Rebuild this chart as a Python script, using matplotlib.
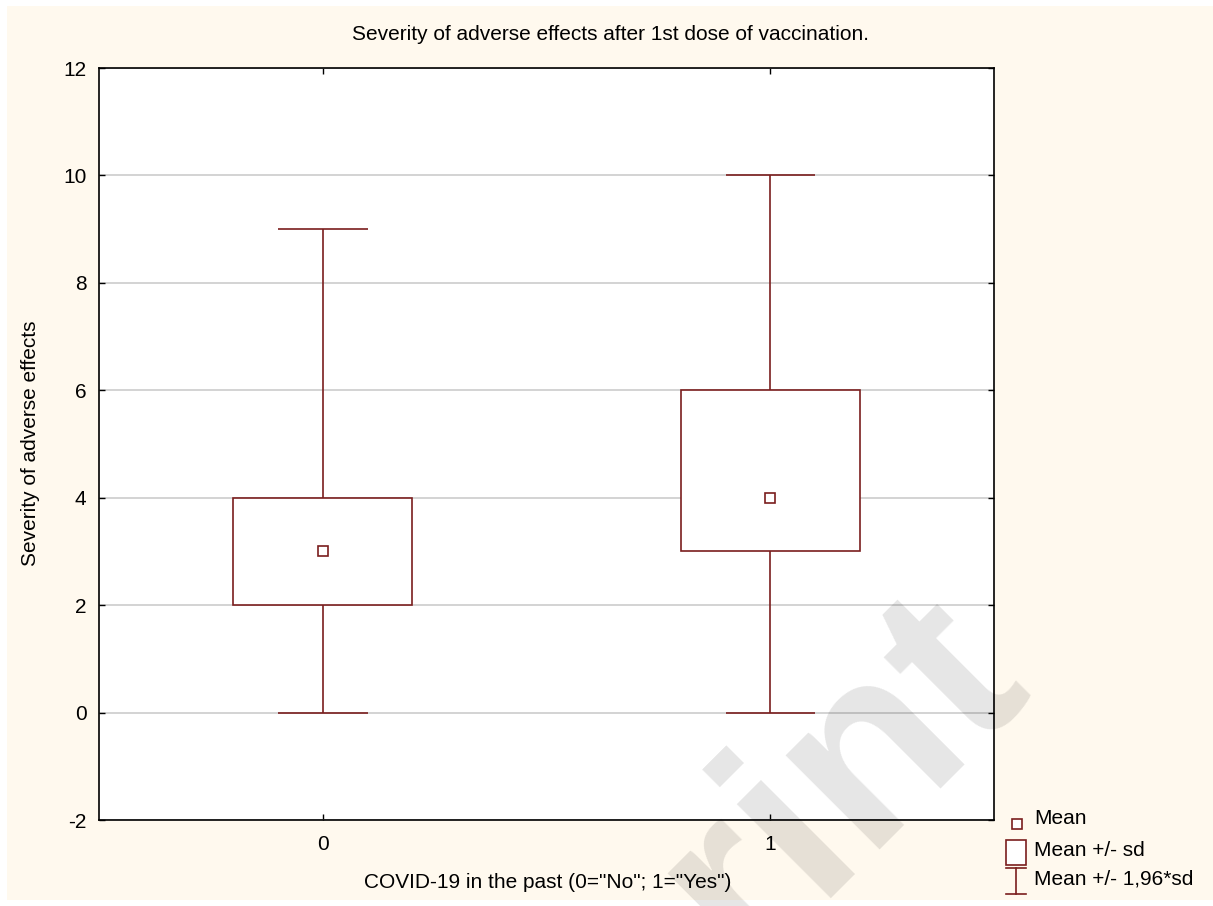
import matplotlib
matplotlib.use("Agg")
import matplotlib.pyplot as plt
from matplotlib.patches import Rectangle

plt.rcParams['font.family'] = ['Liberation Sans', 'DejaVu Sans']
plt.rcParams['axes.unicode_minus'] = False

# данные по группам
groups = ['0', '1']
means = [3, 4]
sd_low = [2, 3]
sd_high = [4, 6]
ci_low = [0, 0]
ci_high = [9, 10]

title = 'Severity of adverse effects after 1st dose of vaccination.'
x_label = 'COVID-19 in the past (0="No"; 1="Yes")'
y_label = 'Severity of adverse effects'
legend_labels = ['Mean', 'Mean +/- sd', 'Mean +/- 1,96*sd']

col = '#7A1E1E'
cream = '#FFF9EE'
W, H = 1213, 906
fs = 15

fig = plt.figure(figsize=(W / 100, H / 100), dpi=100, facecolor='white')
# кремовый фон
fig.patches.append(Rectangle((7 / W, 1 - 900 / H), 1 - 7 / W, (900 - 6) / H,
                             transform=fig.transFigure, facecolor=cream,
                             edgecolor='none', zorder=-5))

ax = fig.add_axes([99 / W, 1 - 820 / H, (994 - 99) / W, (820 - 68) / H])
ax.set_facecolor('white')

for i in range(len(groups)):
    ax.vlines(i, ci_low[i], sd_low[i], color=col, lw=1.2, zorder=3)
    ax.vlines(i, sd_high[i], ci_high[i], color=col, lw=1.2, zorder=3)
    ax.hlines([ci_low[i], ci_high[i]], i - 0.1, i + 0.1, color=col, lw=1.2, zorder=3)
    ax.add_patch(Rectangle((i - 0.2, sd_low[i]), 0.4, sd_high[i] - sd_low[i],
                           facecolor='white', edgecolor=col, lw=1.2, zorder=4))
    ax.plot(i, means[i], 's', ms=7, mfc='white', mec=col, mew=1.2, zorder=5)

ax.set_xlim(-0.5, 1.5)
ax.set_ylim(-2, 12)
ax.set_xticks(range(len(groups)))
ax.set_xticklabels(groups)
ax.set_yticks(range(-2, 13, 2))
ax.grid(axis='y', color='#C8C8C8', lw=1.1, zorder=1)
ax.set_axisbelow(True)
ax.tick_params(direction='in', length=4, width=1, top=True, right=True,
               labelsize=fs, colors='black')
ax.tick_params(axis='x', pad=11)
ax.tick_params(axis='y', pad=9)
for s in ax.spines.values():
    s.set_linewidth(1.2)

fig.text(611 / W, 1 - 34 / H, title, ha='center', va='center', fontsize=fs)
fig.text(548 / W, 1 - 883 / H, x_label, ha='center', va='center', fontsize=fs)
fig.text(31 / W, 1 - 443 / H, y_label, ha='center', va='center',
         rotation=90, fontsize=fs)

# легенда справа снизу
tr = fig.transFigure
fig.patches.append(Rectangle((1012 / W, 1 - 829 / H), 10 / W, 10 / H, transform=tr,
                             facecolor='white', edgecolor=col, lw=1.2))
fig.patches.append(Rectangle((1006 / W, 1 - 865 / H), 20 / W, 25 / H, transform=tr,
                             facecolor='white', edgecolor=col, lw=1.2))
fig.lines.append(plt.Line2D([1016 / W, 1016 / W], [1 - 868 / H, 1 - 894 / H],
                            transform=tr, color=col, lw=1.2))
fig.lines.append(plt.Line2D([1006 / W, 1026 / W], [1 - 868 / H, 1 - 868 / H],
                            transform=tr, color=col, lw=1.2))
fig.lines.append(plt.Line2D([1006 / W, 1026 / W], [1 - 894 / H, 1 - 894 / H],
                            transform=tr, color=col, lw=1.2))
for lab, yy in zip(legend_labels, [819, 850, 879]):
    fig.text(1034 / W, 1 - yy / H, lab, ha='left', va='center', fontsize=fs)

# водяной знак
fig.text(1030 / W, 1 - 682 / H, 'Preprint', rotation=45, rotation_mode='anchor',
         ha='right', va='baseline', fontsize=180, fontweight='bold',
         color='black', alpha=0.1, zorder=10)

fig.savefig('out.png', dpi=100)
